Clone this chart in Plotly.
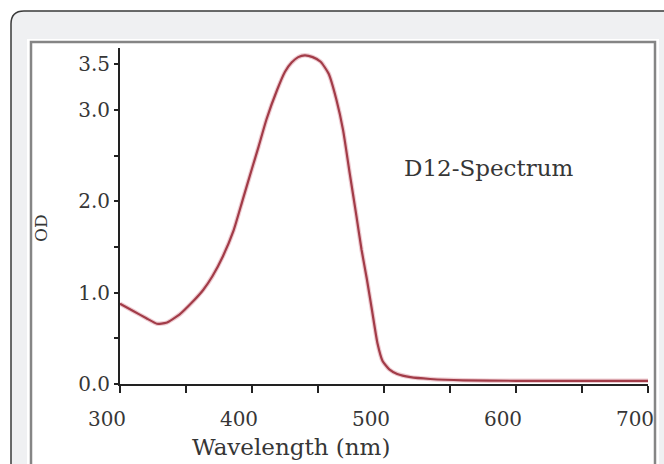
import plotly.graph_objects as go

# ---- data ----
wavelength = [300, 310, 320, 328, 335, 345, 355, 363, 370, 378, 386, 393, 400, 405,
              411, 419, 425, 430, 435, 440, 446, 452, 458, 464, 469, 474, 479, 483,
              487, 491, 495, 499, 504, 510, 520, 535, 560, 600, 650, 700]
od = [0.88, 0.80, 0.72, 0.66, 0.67, 0.76, 0.90, 1.03, 1.18, 1.40, 1.68, 2.02, 2.36, 2.60,
      2.90, 3.22, 3.42, 3.52, 3.58, 3.60, 3.58, 3.53, 3.40, 3.11, 2.78, 2.31, 1.85, 1.47,
      1.15, 0.80, 0.45, 0.25, 0.16, 0.11, 0.075, 0.055, 0.04, 0.035, 0.035, 0.035]

x_tickvals = [300, 350, 400, 450, 500, 550, 600, 650, 700]
x_ticktext = ["300", "", "400", "", "500", "", "600", "", "700"]
y_tickvals = [0, 0.5, 1.0, 1.5, 2.0, 2.5, 3.0, 3.5]
y_ticktext = ["0.0", "", "1.0", "", "2.0", "", "3.0", "3.5"]

x_title = "Wavelength (nm)"
y_title = "OD"
label = "D12-Spectrum"

# ---- layout geometry ----
W, H = 664, 464
L, R, T, B = 120, 16, 48, 80
PW, PH = W - L - R, H - T - B


def fx(px):
    return (px - L) / PW


def fy(py):
    return (H - B - py) / PH


def rounded_rect(x0, y0, x1, y1, r):
    pts = [
        f"M {fx(x0)},{fy(y0 + r)}",
        f"Q {fx(x0)},{fy(y0)} {fx(x0 + r)},{fy(y0)}",
        f"L {fx(x1 - r)},{fy(y0)}",
        f"Q {fx(x1)},{fy(y0)} {fx(x1)},{fy(y0 + r)}",
        f"L {fx(x1)},{fy(y1 - r)}",
        f"Q {fx(x1)},{fy(y1)} {fx(x1 - r)},{fy(y1)}",
        f"L {fx(x0 + r)},{fy(y1)}",
        f"Q {fx(x0)},{fy(y1)} {fx(x0)},{fy(y1 - r)}",
        "Z",
    ]
    return " ".join(pts)


FONT = "DejaVu Serif"
TXT = "#363636"

fig = go.Figure()
# soft pink halo under the spectrum line (as in the scanned original)
fig.add_trace(go.Scatter(
    x=wavelength, y=od, mode="lines",
    line=dict(color="rgba(205,110,125,0.35)", width=4.5, shape="spline", smoothing=0.5),
    hoverinfo="skip", showlegend=False,
))
fig.add_trace(go.Scatter(
    x=wavelength, y=od, mode="lines",
    line=dict(color="#a23c48", width=2.2, shape="spline", smoothing=0.5),
    hoverinfo="skip", showlegend=False,
))

shapes = [
    dict(type="path", xref="paper", yref="paper", layer="below",
         path=rounded_rect(11, 11, 690, 490, 13),
         fillcolor="#eff0f2", line=dict(color="#3a3a3a", width=1.5)),
    dict(type="rect", xref="paper", yref="paper", layer="below",
         x0=fx(27), x1=fx(659), y0=fy(39), y1=fy(480),
         fillcolor="#ffffff", line=dict(width=0)),
    dict(type="rect", xref="paper", yref="paper", layer="below",
         x0=fx(31), x1=fx(655), y0=fy(42), y1=fy(480),
         fillcolor="#ffffff", line=dict(color="#858585", width=2.5)),
]

annotations = [
    dict(text=x_title, xref="paper", yref="paper", x=fx(291), y=fy(447),
         xanchor="center", yanchor="middle", showarrow=False,
         font=dict(family=FONT, size=23, color=TXT)),
    dict(text=y_title, xref="paper", yref="paper", x=fx(41), y=fy(228),
         xanchor="center", yanchor="middle", showarrow=False, textangle=-90,
         font=dict(family=FONT, size=17, color=TXT)),
    dict(text=label, xref="paper", yref="paper", x=fx(489), y=fy(168),
         xanchor="center", yanchor="middle", showarrow=False,
         font=dict(family=FONT, size=23, color=TXT)),
]

fig.update_layout(
    width=W, height=H,
    margin=dict(l=L, r=R, t=T, b=B, pad=0, autoexpand=False),
    paper_bgcolor="#ffffff",
    plot_bgcolor="rgba(0,0,0,0)",
    shapes=shapes,
    annotations=annotations,
    xaxis=dict(
        range=[300, 700], tickmode="array", tickvals=x_tickvals, ticktext=x_ticktext,
        automargin=False,
        showgrid=False, zeroline=False, showline=True, linecolor="#222222", linewidth=2,
        ticks="outside", ticklen=7, tickwidth=1.5, tickcolor="#222222",
        tickfont=dict(family=FONT, size=20, color=TXT),
        ticklabelstandoff=9, ticklabelshift=-13,
    ),
    yaxis=dict(
        range=[0, 3.68], tickmode="array", tickvals=y_tickvals, ticktext=y_ticktext,
        automargin=False,
        showgrid=False, zeroline=False, showline=True, linecolor="#222222", linewidth=2,
        ticks="outside", ticklen=4, tickwidth=1.5, tickcolor="#222222",
        tickfont=dict(family=FONT, size=20, color=TXT),
        ticklabelstandoff=0,
    ),
)

fig.write_html("out.html", config={"displayModeBar": False},
               post_script="document.body.style.margin='0';document.body.style.overflow='hidden';")
